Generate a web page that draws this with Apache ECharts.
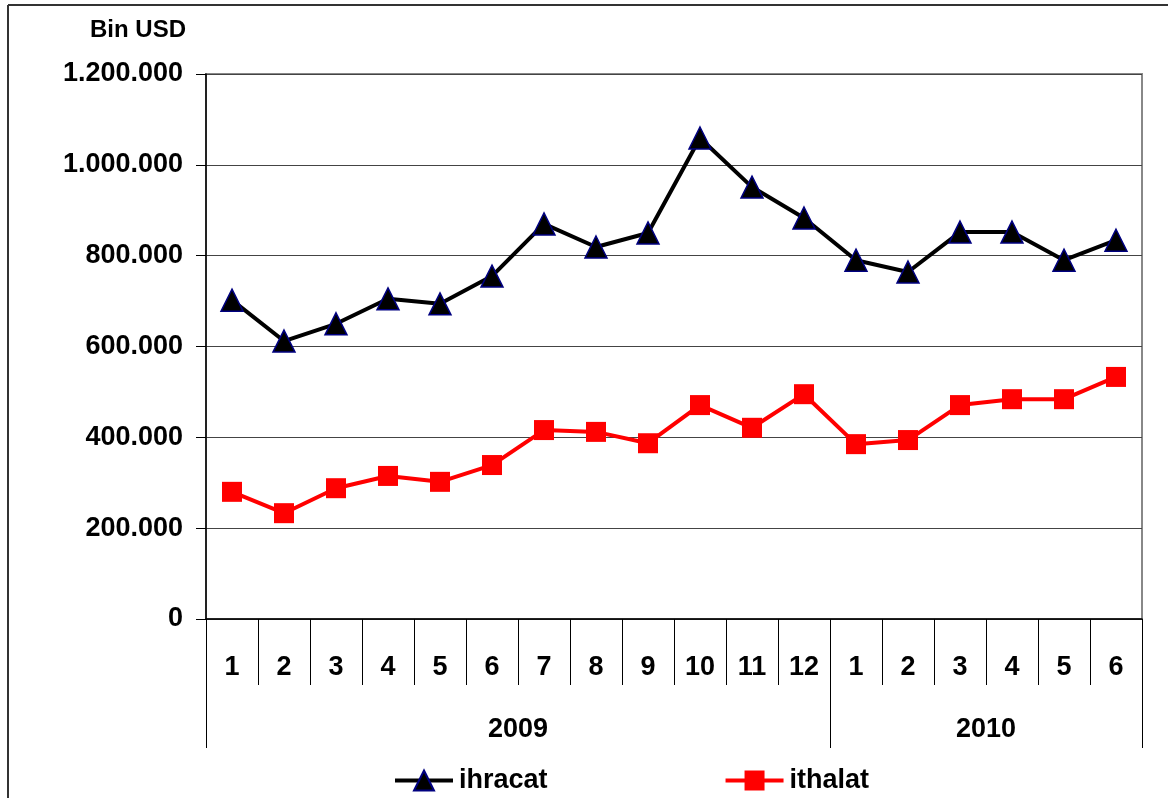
<!DOCTYPE html>
<html>
<head>
<meta charset="utf-8">
<script src="https://cdn.jsdelivr.net/npm/echarts@6/dist/echarts.min.js"></script>
<style>
  html, body { margin: 0; padding: 0; background: #fff; }
  #chart { width: 1168px; height: 798px; }
</style>
</head>
<body>
<div id="chart"></div>
<script>
// months, 2009-01 .. 2010-06
let months = ['1', '2', '3', '4', '5', '6', '7', '8', '9', '10', '11', '12', '1', '2', '3', '4', '5', '6'];
let years = ['2009', '2010'];
let yearStart = [0, 12];

let ihracat = [702000, 612000, 650000, 705000, 694000, 755000, 870000, 819000, 850000, 1059000, 951000, 883000,
  790000, 764000, 852000, 852000, 790000, 834000];
let ithalat = [280000, 233000, 288000, 315000, 302000, 339000, 416000, 412000, 387000, 471000, 421000, 495000,
  385000, 394000, 471000, 484000, 484000, 533000];

let yTicks = [0, 200000, 400000, 600000, 800000, 1000000, 1200000];

let font = 'Liberation Sans, Arial, sans-serif';
let chart = echarts.init(document.getElementById('chart'));

// category keys must be unique, labels come back through the formatter
let periods = months.map((m, i) => (i < 12 ? years[0] : years[1]) + '-' + m);

function dots(v) {
  return String(v).replace(/\B(?=(\d{3})+(?!\d))/g, '.');
}

let option = {
  animation: false,
  textStyle: { fontFamily: font },
  title: {
    text: 'Bin USD',
    left: 85,
    top: 13,
    textStyle: { fontSize: 24, fontWeight: 'bold', color: '#000', fontFamily: font }
  },
  legend: {
    data: ['ihracat', 'ithalat'],
    left: 388,
    top: 762,
    itemWidth: 58,
    itemHeight: 25,
    itemGap: 176,
    lineStyle: { width: 4 },
    textStyle: { fontSize: 27, fontWeight: 'bold', color: '#000', fontFamily: font, padding: [0, 0, 0, 1] }
  },
  grid: {
    left: 206,
    right: 26,
    top: 74,
    bottom: 179,
    show: true,
    borderColor: '#888',
    borderWidth: 2
  },
  xAxis: [
    {
      type: 'category',
      data: periods,
      axisLine: { show: true, lineStyle: { color: '#000', width: 1.5 } },
      axisTick: { show: true, interval: 0, length: 66, lineStyle: { color: '#000', width: 1 } },
      axisLabel: {
        interval: 0,
        margin: 35,
        fontSize: 27,
        fontWeight: 'bold',
        color: '#000',
        formatter: (v, i) => months[i]
      }
    },
    {
      type: 'category',
      data: periods,
      position: 'bottom',
      axisLine: { show: false },
      axisTick: {
        show: true,
        interval: (i) => yearStart.indexOf(i) >= 0,
        length: 129,
        lineStyle: { color: '#000', width: 1 }
      },
      axisLabel: {
        interval: 0,
        margin: 97,
        fontSize: 27,
        fontWeight: 'bold',
        color: '#000',
        formatter: (v, i) => {
          if (i === 5) return '{l|' + years[0] + '}';
          if (i === 15) return '{r|' + years[1] + '}';
          return '';
        },
        rich: {
          l: { padding: [0, 0, 0, 52], fontSize: 27, fontWeight: 'bold', color: '#000', fontFamily: font },
          r: { padding: [0, 52, 0, 0], fontSize: 27, fontWeight: 'bold', color: '#000', fontFamily: font }
        }
      }
    }
  ],
  yAxis: {
    type: 'value',
    min: yTicks[0],
    max: yTicks[yTicks.length - 1],
    interval: yTicks[1] - yTicks[0],
    axisLine: { show: true, lineStyle: { color: '#000', width: 1.5 } },
    axisTick: { show: true, length: 10, lineStyle: { color: '#000' } },
    splitLine: { show: true, lineStyle: { color: '#444', width: 1 } },
    axisLabel: {
      margin: 23,
      fontSize: 27,
      fontWeight: 'bold',
      color: '#000',
      formatter: dots
    }
  },
  series: [
    {
      name: 'ihracat',
      type: 'line',
      data: ihracat,
      symbol: 'triangle',
      symbolSize: 22,
      lineStyle: { color: '#000', width: 4 },
      itemStyle: { color: '#000', borderColor: '#000080', borderWidth: 1.5 }
    },
    {
      name: 'ithalat',
      type: 'line',
      data: ithalat,
      symbol: 'rect',
      symbolSize: 20,
      lineStyle: { color: '#ff0000', width: 4 },
      itemStyle: { color: '#ff0000', borderWidth: 0 }
    }
  ],
  graphic: [
    { type: 'line', shape: { x1: 8, y1: 5, x2: 1168, y2: 5 }, style: { stroke: '#333', lineWidth: 2 } },
    { type: 'line', shape: { x1: 8, y1: 5, x2: 8, y2: 798 }, style: { stroke: '#333', lineWidth: 2 } }
  ]
};

option && chart.setOption(option);
</script>
</body>
</html>
